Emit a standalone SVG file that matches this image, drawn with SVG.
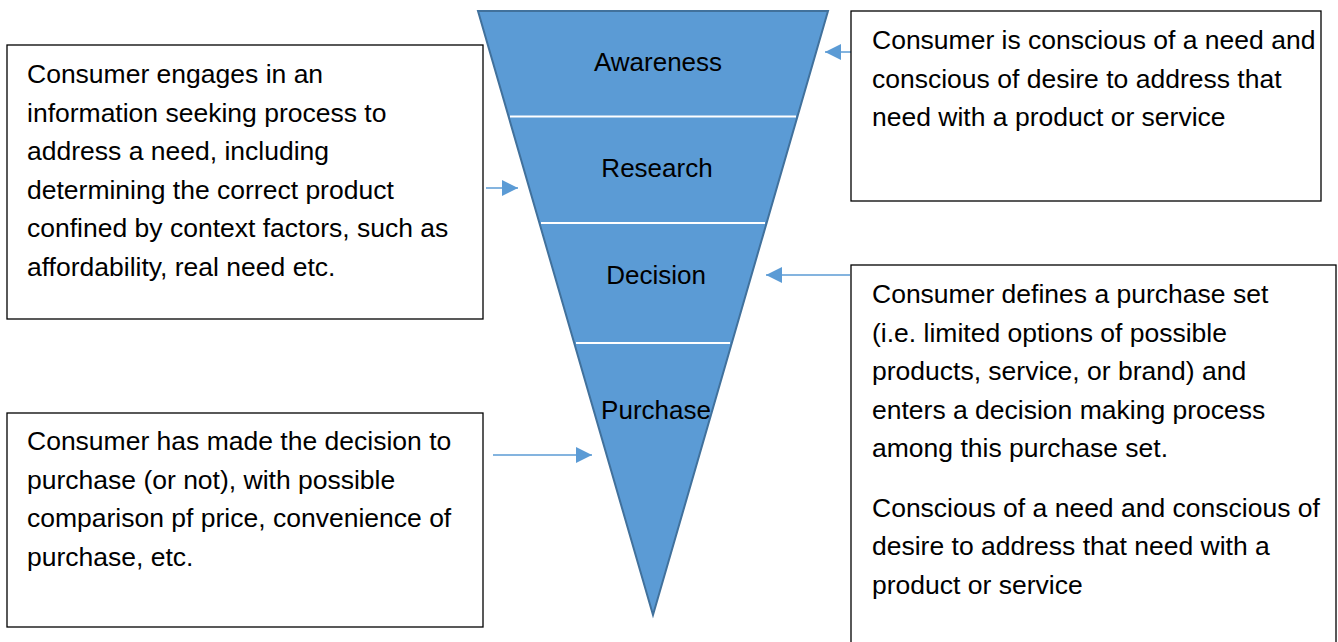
<svg xmlns="http://www.w3.org/2000/svg" width="1338" height="642" viewBox="0 0 1338 642">
<style>
.box{fill:#fff;stroke:#000;stroke-width:1.3}
.t{font-family:"Liberation Sans",Arial,sans-serif;font-size:26.5px;fill:#000}
.lbl{font-family:"Liberation Sans",Arial,sans-serif;font-size:26px;fill:#000;text-anchor:middle}
.div{stroke:#fff;stroke-width:2}
.arr{stroke:#5B9BD5;stroke-width:1.5;fill:none;marker-end:url(#ah)}
</style>
<defs>
<marker id="ah" markerUnits="userSpaceOnUse" markerWidth="16" markerHeight="16" refX="16" refY="8" orient="auto">
<path d="M0,0 L16,8 L0,16 Z" fill="#5B9BD5"/>
</marker>
</defs>
<rect width="1338" height="642" fill="#fff"/>
<g id="funnel">
<polygon points="478,11 828,11 653,615" fill="#5B9BD5" stroke="#41719C" stroke-width="2"/>
<line class="div" x1="510" y1="116.5" x2="796" y2="116.5"/>
<line class="div" x1="541" y1="223" x2="765" y2="223"/>
<line class="div" x1="576" y1="343" x2="730" y2="343"/>
<text class="lbl" x="658" y="71">Awareness</text>
<text class="lbl" x="657" y="177">Research</text>
<text class="lbl" x="656" y="284">Decision</text>
<text class="lbl" x="656" y="419">Purchase</text>
</g>
<g id="connectors">
<line class="arr" x1="851" y1="52" x2="825" y2="52"/>
<line class="arr" x1="486" y1="188" x2="518" y2="188"/>
<line class="arr" x1="850" y1="275" x2="766" y2="275"/>
<line class="arr" x1="493" y1="455" x2="592" y2="455"/>
</g>
<g id="box-awareness">
<rect class="box" x="851" y="11" width="470" height="190"/>
<text class="t" x="872" y="49">Consumer is conscious of a need and</text>
<text class="t" x="872" y="88">conscious of desire to address that</text>
<text class="t" x="872" y="126">need with a product or service</text>
</g>
<g id="box-research">
<rect class="box" x="7" y="45" width="476" height="274"/>
<text class="t" x="27" y="83">Consumer engages in an</text>
<text class="t" x="27" y="122">information seeking process to</text>
<text class="t" x="27" y="160">address a need, including</text>
<text class="t" x="27" y="199">determining the correct product</text>
<text class="t" x="27" y="237">confined by context factors, such as</text>
<text class="t" x="27" y="276">affordability, real need etc.</text>
</g>
<g id="box-decision">
<rect class="box" x="851" y="265" width="485" height="400"/>
<text class="t" x="872" y="303">Consumer defines a purchase set</text>
<text class="t" x="872" y="342">(i.e. limited options of possible</text>
<text class="t" x="872" y="380">products, service, or brand) and</text>
<text class="t" x="872" y="419">enters a decision making process</text>
<text class="t" x="872" y="457">among this purchase set.</text>
<text class="t" x="872" y="517">Conscious of a need and conscious of</text>
<text class="t" x="872" y="555">desire to address that need with a</text>
<text class="t" x="872" y="594">product or service</text>
</g>
<g id="box-purchase">
<rect class="box" x="7" y="413" width="476" height="214"/>
<text class="t" x="27" y="450">Consumer has made the decision to</text>
<text class="t" x="27" y="489">purchase (or not), with possible</text>
<text class="t" x="27" y="527">comparison pf price, convenience of</text>
<text class="t" x="27" y="566">purchase, etc.</text>
</g>
</svg>
